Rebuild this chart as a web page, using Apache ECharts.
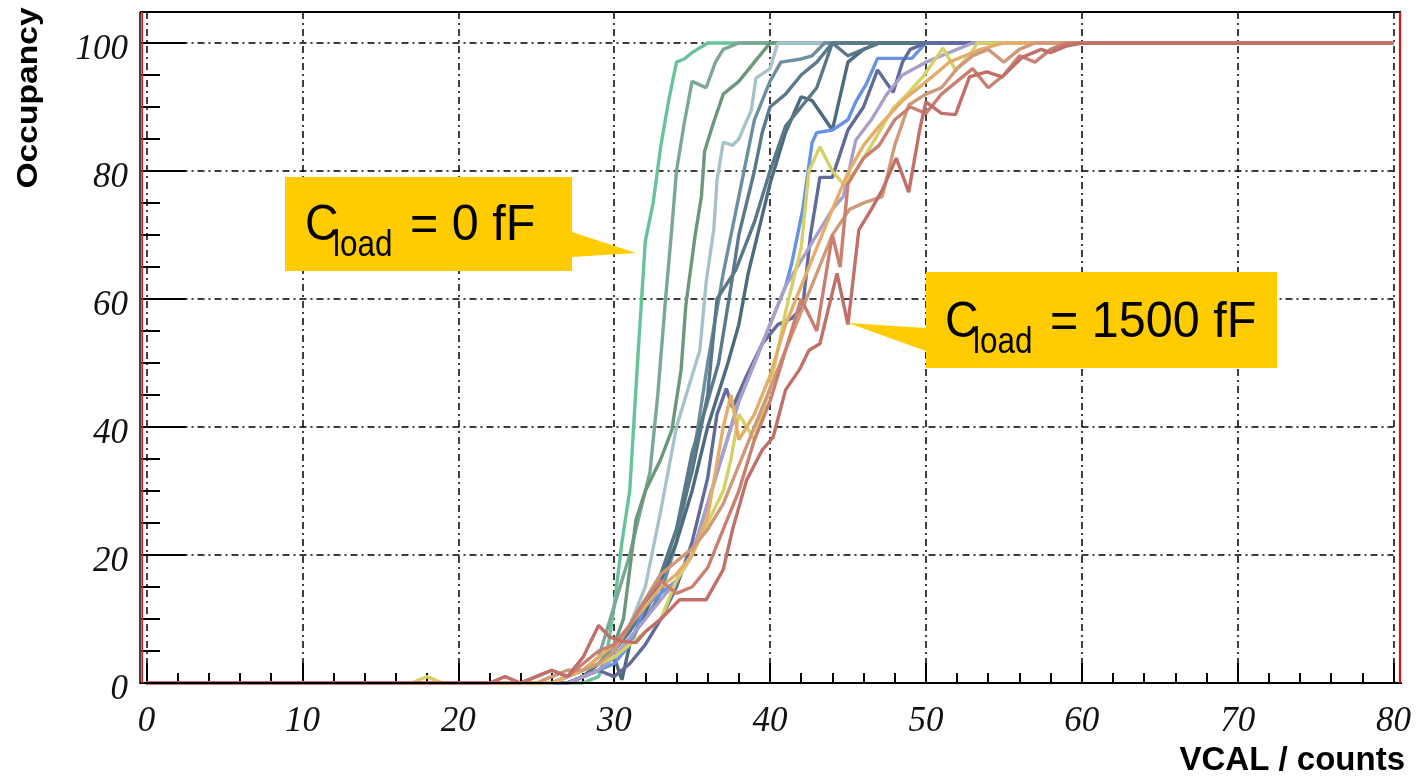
<!DOCTYPE html>
<html><head><meta charset="utf-8">
<script src="https://cdn.jsdelivr.net/npm/echarts@6/dist/echarts.min.js"></script>
<style>html,body{margin:0;padding:0;background:#fff}#c{width:1418px;height:779px}</style>
</head><body><div id="c"></div>
<script>
// ---- data ----
const xTickValues = [0, 10, 20, 30, 40, 50, 60, 70, 80];
const yTickValues = [0, 20, 40, 60, 80, 100];
const xTitle = 'VCAL / counts';
const yTitle = 'Occupancy';
const seriesNames = ['0 fF','100 fF','200 fF','300 fF','400 fF','500 fF','600 fF','700 fF','800 fF','900 fF','1000 fF','1100 fF','1200 fF','1300 fF','1400 fF','1500 fF'];
const seriesColors = ['#68c39a','#7ba896','#6b977d','#a7c3ca','#6e8fa0','#5a7a8b','#4e6b7d','#587787','#6793e3','#626a9a','#a89fcb','#d7cf68','#e4ad69','#cf9a79','#ca8070','#c16f69'];
const c0000 = [[0,0],[28,0],[29,1],[29.5,4],[30,12],[30.5,22],[31,30],[31.5,50],[32,69],[32.5,75],[33,84],[33.5,91],[34,97],[34.5,97.5],[35,98.5],[36,100],[80,100]];
const c0100 = [[0,0],[26,0],[27,1],[28,2],[29,4],[30,12],[31,20],[31.6,26],[32.3,33],[32.8,45],[33.3,60],[33.7,71],[34,80],[34.5,87.5],[35,94],[35.9,93],[36.5,97],[37,99],[38,100],[80,100]];
const c0200 = [[0,0],[27,0],[28,1],[29,3],[30,6],[30.6,10],[31,17.7],[31.4,25.5],[32,30],[33,35],[33.7,39.5],[34.3,49],[34.6,59],[35.2,70],[35.6,76],[35.8,83],[36.3,87],[37,92],[38,94],[39,97],[40,100],[80,100]];
const c0300 = [[0,0],[27,0],[28,1],[29,2],[30,5],[31,9],[32,15],[33,27],[34,40],[35,48],[35.5,52],[35.9,62.5],[36.4,71],[36.6,78.6],[37,84.5],[37.6,84],[38,85],[38.8,89.5],[39.1,94.5],[40,96],[40.5,100],[80,100]];
const c0400 = [[0,0],[27,0],[28,1],[29,2],[30,4],[31,7],[32,10],[33,14],[34,22],[35,34],[36,50],[37,64],[38,76],[38.5,82],[39,88],[40,94],[40.7,97],[42,97.5],[42.7,98],[43.5,100],[80,100]];
const c0500 = [[0,0],[26,0],[27,1],[28,2],[29,3],[30,5],[31,9],[32,13],[33,17],[34,24],[35,36],[36,44],[36.7,50],[37.5,62],[38,70],[39,80],[39.5,86],[40,90],[41,92],[42,95],[43,97],[44,100],[80,100]];
const c0600 = [[0,0],[27,0],[28,1],[29,2],[30,4],[30.5,0.5],[31,6],[32,11],[33,16],[34,22],[35,30],[36,40],[37.3,50],[38,56],[38.6,64],[39,68],[40,78],[41,86],[42,91.6],[42.7,91],[44,86.4],[45,97],[46,99],[47,100],[80,100]];
const c0700 = [[0,0],[27,0],[28,1],[29,3],[30,5],[31,8],[32,12],[33,17],[34,24],[35,33],[36,45],[36.6,60],[37.8,64.5],[39,72],[40,80],[41,87],[42,90],[43,93],[44,100],[45,98],[46,99],[47,100],[80,100]];
const c0800 = [[0,0],[27,0],[28,1],[29,2],[30,3],[31,6],[32,12],[33,14],[34,16],[35,20],[36,28],[37,36],[38,44],[39,50],[40,56],[41,62],[41.4,65.6],[42.1,74],[42.7,84.4],[43,86],[44,86.4],[45,88],[45.5,90.8],[46.2,93.7],[46.9,97.6],[49.1,97.6],[50,100],[80,100]];
const c0900 = [[0,0],[27,0],[28,1],[29,2],[30,1],[31,3],[32,6],[33,10],[34,15],[35,22],[36,32],[36.6,42],[37.2,46],[37.6,43],[38.5,48],[39.5,53],[40.5,56],[41.4,57],[42.1,58.7],[42.6,70],[43.2,79],[44,79],[45,86.4],[46,90],[46.9,95.8],[47.9,92.3],[48.5,97],[49,99],[50,100],[80,100]];
const c1000 = [[0,0],[27,0],[28,1],[29,2],[30,4],[31,7],[32,10],[33,13],[34,16],[35,20],[36,28],[37,36],[38,44],[39,50],[40,56],[41,62],[42,66],[43,70],[44,74],[44.7,76],[45.5,84.8],[46.5,88],[47.5,92],[48.5,95],[50,97],[51,98],[52,99],[53,100],[80,100]];
const c1100 = [[0,0],[17,0],[18,1],[19,0],[26,0],[27,1],[28,2],[29,3],[30,4],[31,6],[32,8],[33,10],[34,16],[35,20],[36,25],[37,30],[37.5,35],[38,42],[38.5,40],[39,38],[40,46],[41,58],[42,68],[42.5,80],[43.2,83.8],[44,80],[44.7,78],[45.5,80],[46.5,84],[47.9,89.8],[48.8,92],[49.8,94.7],[51.1,99.2],[51.9,95.8],[52.8,98],[53.3,100],[80,100]];
const c1200 = [[0,0],[26,0],[27,1],[28,2],[29,4],[30,6],[31,9],[32,12],[33,15],[34,17],[35,20],[36,26],[37,40],[37.5,45],[38,38],[39,42],[40,48],[41,56],[42,62],[43,68],[44,74],[45,79.7],[46,84],[47,87],[48.5,91],[50.4,94.7],[51.5,97],[52.5,98],[53.5,99],[55,100],[80,100]];
const c1300 = [[0,0],[25,0],[26,1],[27,2],[28,2],[29,3],[30,5],[31,9],[32,13],[33,17],[34,19],[35,21],[36,24],[37,28],[38,34],[39,40],[40,46],[41,52],[42,58],[43,64],[44,70],[45.1,74],[46,75],[47.2,76],[48,84],[48.9,90.3],[50,92],[51,93],[52,96],[53,98],[54,99],[55,97],[56,99],[57,100],[80,100]];
const c1400 = [[0,0],[24,0],[25,1],[26,2],[27,1],[28,3],[29,5],[30,6],[31,9],[32,13],[33,16],[34,14],[35,15],[36,18],[37,24],[38,30],[39,38],[40,44],[41,52],[42,60],[43,55],[44,70],[44.5,65],[45,78],[46,82],[47,84],[48,88],[49,90],[50,89],[51,92],[52,94],[53,96],[54,93],[55,95],[56,98],[57,97],[58,99],[59,100],[80,100]];
const c1500 = [[0,0],[22,0],[23,1],[24,0],[25,1],[26,2],[27,1],[28,4],[29,9],[29.7,7.2],[30.5,6.5],[31.4,6.3],[32,8],[33,10],[34.2,13],[35.9,13],[37,17.7],[37.6,24],[38.5,31.7],[39.5,36.4],[40.2,38.4],[41,45.8],[41.9,49],[42.5,52],[43.2,53],[44.3,64],[45,56],[45.7,70.8],[46.5,74],[47.2,77],[48.1,82],[48.9,76.7],[49.6,86.4],[50,90.8],[51,89],[51.9,88.8],[52.8,94.7],[53.9,95.5],[54.9,94.7],[56.2,97.8],[57.4,99],[58,98.5],[59,99.5],[60,100],[80,100]];
const seriesData = [c0000,c0100,c0200,c0300,c0400,c0500,c0600,c0700,c0800,c0900,c1000,c1100,c1200,c1300,c1400,c1500];
const noteLow = {main: 'C', sub: 'load', rest: '= 0 fF'};
const noteHigh = {main: 'C', sub: 'load', rest: '= 1500 fF'};

// ---- chart ----
const chart = echarts.init(document.getElementById('c'), null, {renderer: 'canvas'});
const yTop = 104.84;
const gridDash = [7, 4, 2, 4];
const labelFont = {fontFamily: 'Liberation Serif', fontStyle: 'italic', fontSize: 35, color: '#111'};
const noteFont = "'Liberation Sans',Arial,sans-serif";
const yellow = '#ffcc00';

function noteTexts(n, x0, base) {
  return [
    {type: 'text', x: x0, y: base - 17, z: 101, scaleX: 0.93, style: {text: n.main, font: '50px ' + noteFont, fill: '#000', textAlign: 'left', textVerticalAlign: 'middle'}},
    {type: 'text', x: x0 + 28, y: base + 3, z: 101, scaleX: 0.85, style: {text: n.sub, font: '37px ' + noteFont, fill: '#000', textAlign: 'left', textVerticalAlign: 'middle'}},
    {type: 'text', x: x0 + 105, y: base - 17, z: 101, scaleX: 0.97, style: {text: n.rest, font: '50px ' + noteFont, fill: '#000', textAlign: 'left', textVerticalAlign: 'middle'}}
  ];
}

const option = {
  animation: false,
  backgroundColor: '#fff',
  grid: {left: 146.5, right: 24.5, top: 12, bottom: 96},
  xAxis: {
    type: 'value', min: xTickValues[0], max: xTickValues[xTickValues.length - 1], interval: 10,
    axisLine: {show: true, onZero: false, lineStyle: {color: '#000', width: 2}},
    axisTick: {show: true, inside: true, length: 20, lineStyle: {color: '#000', width: 2}},
    minorTick: {show: true, splitNumber: 5, length: 10, lineStyle: {color: '#000', width: 2}},
    axisLabel: Object.assign({margin: 21}, labelFont),
    splitLine: {show: true, lineStyle: {color: '#000', width: 1.5, type: gridDash}}
  },
  yAxis: [{
    type: 'value', min: yTickValues[0], max: yTop, interval: 20, offset: 5.5,
    axisLine: {show: false},
    axisTick: {show: true, inside: true, length: 39, lineStyle: {color: '#000', width: 2}},
    axisLabel: Object.assign({margin: 13, showMaxLabel: false, verticalAlign: 'top', lineHeight: 14}, labelFont),
    splitLine: {show: true, lineStyle: {color: '#000', width: 1.5, type: gridDash}}
  }, {
    type: 'value', position: 'left', min: 0, max: yTop, interval: 5, offset: 5.5,
    axisLine: {show: false},
    axisTick: {show: true, inside: true, length: 19, lineStyle: {color: '#000', width: 2}},
    axisLabel: {show: false},
    splitLine: {show: false}
  }],
  series: seriesData.map((d, i) => ({
    name: seriesNames[i], type: 'line', data: d, yAxisIndex: 0,
    showSymbol: false, symbol: 'none', smooth: false,
    lineStyle: {color: seriesColors[i], width: 3.4},
    itemStyle: {color: seriesColors[i]}, z: 2 + i
  })),
  graphic: [
    // frame
    {type: 'line', z: 90, shape: {x1: 140, y1: 12, x2: 1401, y2: 12}, style: {stroke: '#000', lineWidth: 2}},
    {type: 'line', z: 90, shape: {x1: 140, y1: 683, x2: 1402, y2: 683}, style: {stroke: '#000', lineWidth: 2}},
    {type: 'line', z: 90, shape: {x1: 140, y1: 12, x2: 140, y2: 684}, style: {stroke: '#000', lineWidth: 1.5}},
    {type: 'line', z: 91, shape: {x1: 142.2, y1: 12, x2: 142.2, y2: 683}, style: {stroke: '#c8232a', lineWidth: 1.8}},
    {type: 'line', z: 91, shape: {x1: 1400, y1: 12, x2: 1400, y2: 683}, style: {stroke: '#e01010', lineWidth: 2.2}},
    // titles
    {type: 'text', z: 95, x: 29, y: 98, rotation: Math.PI / 2, scaleX: 1.12,
      style: {text: yTitle, font: 'bold 30px "Liberation Sans", Arial, sans-serif', fill: '#000', textAlign: 'center', textVerticalAlign: 'middle'}},
    {type: 'text', z: 95, x: 1405, y: 761,
      style: {text: xTitle, font: 'bold 33px "Liberation Sans", Arial, sans-serif', fill: '#000', textAlign: 'right', textVerticalAlign: 'middle'}},
    // callouts
    {type: 'polygon', z: 100, shape: {points: [[285, 177], [572, 177], [572, 232], [636, 253], [572, 257], [572, 271], [285, 271]]}, style: {fill: yellow}},
    {type: 'polygon', z: 100, shape: {points: [[926, 272], [1277, 272], [1277, 368], [926, 368], [926, 351], [848, 323], [926, 328]]}, style: {fill: yellow}}
  ].concat(noteTexts(noteLow, 305, 243)).concat(noteTexts(noteHigh, 945, 340))
};
chart.setOption(option);
</script>
</body></html>
